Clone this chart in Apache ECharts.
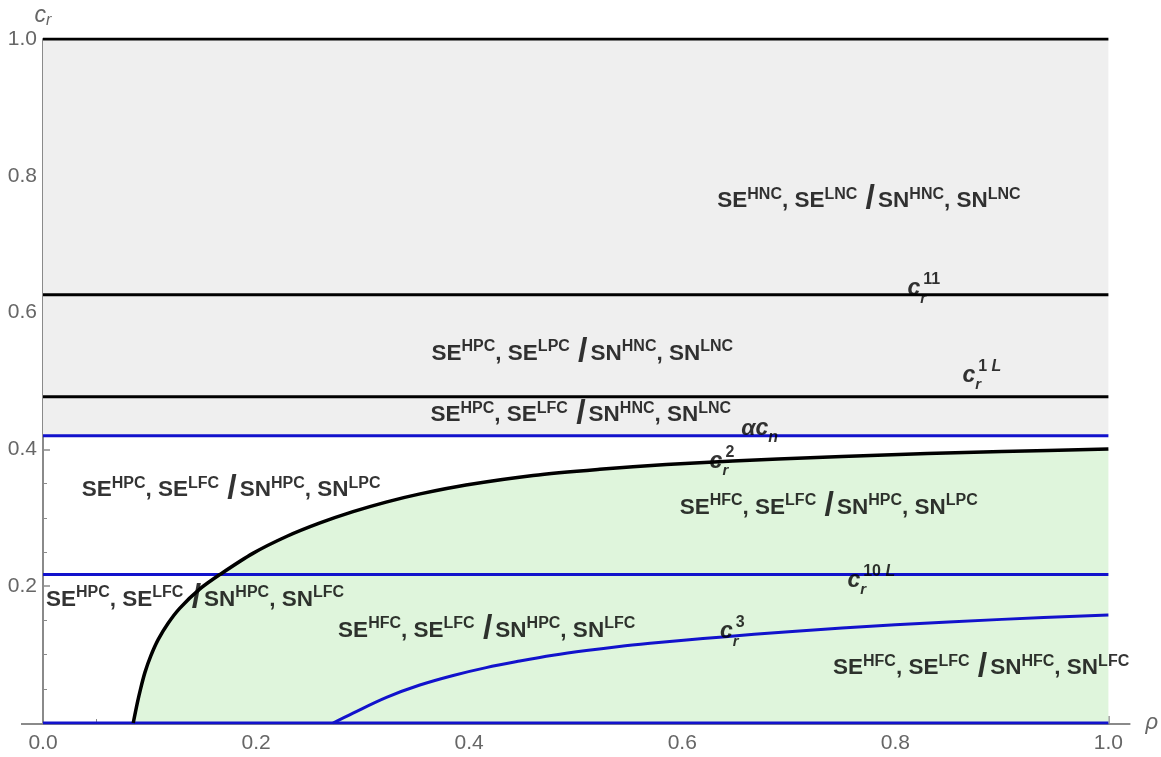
<!DOCTYPE html>
<html>
<head>
<meta charset="utf-8">
<script src="https://cdn.jsdelivr.net/npm/echarts@6.0.0/dist/echarts.min.js"></script>
<style>
  html, body { margin: 0; padding: 0; background: #ffffff; }
  #chart { width: 1161px; height: 757px; }
</style>
</head>
<body>
<div id="chart"></div>
<script>
// Boundary curve c_r^2(ρ)
const cr2Rho = [0.0847, 0.0885, 0.0916, 0.0957, 0.101, 0.1082, 0.1176, 0.1285, 0.1473, 0.166,
                0.197, 0.229, 0.26, 0.291, 0.322, 0.354, 0.397, 0.46, 0.5225, 0.585, 0.6475,
                0.69, 0.75, 0.83, 0.9, 1.0];
const cr2Val = [0, 0.029, 0.050, 0.074, 0.0975, 0.1222, 0.1462, 0.168, 0.196, 0.217,
                0.248, 0.273, 0.2925, 0.309, 0.323, 0.335, 0.348, 0.362, 0.371, 0.378, 0.383,
                0.386, 0.3895, 0.394, 0.397, 0.4005];

// Boundary curve c_r^3(ρ)
const cr3Rho = [0.2723, 0.291, 0.3224, 0.3537, 0.385, 0.416, 0.4475, 0.4787, 0.51, 0.541,
                0.5725, 0.604, 0.635, 0.7, 0.8, 0.9, 1.0];
const cr3Val = [0, 0.0145, 0.0375, 0.0555, 0.0695, 0.081, 0.0905, 0.099, 0.106, 0.112,
                0.117, 0.1215, 0.1255, 0.1335, 0.1435, 0.1515, 0.158];

// Constant thresholds
const levelTop = 1.0;
const levelCr11 = 0.626;
const levelCr1L = 0.477;
const levelAlphaCn = 0.42;
const levelCr10L = 0.217;
const levelZero = 0;

// Axis tick labels
const xTickLabels = ['0.0', '0.2', '0.4', '0.6', '0.8', '1.0'];
const yTickLabels = ['', '0.2', '0.4', '0.6', '0.8', '1.0'];

// Equilibrium regions: superscripts of SE^a, SE^b / SN^c, SN^d
const regionSups = [
  ['HNC', 'LNC', 'HNC', 'LNC'],
  ['HPC', 'LPC', 'HNC', 'LNC'],
  ['HPC', 'LFC', 'HNC', 'LNC'],
  ['HPC', 'LFC', 'HPC', 'LPC'],
  ['HFC', 'LFC', 'HPC', 'LPC'],
  ['HPC', 'LFC', 'HPC', 'LFC'],
  ['HFC', 'LFC', 'HPC', 'LFC'],
  ['HFC', 'LFC', 'HFC', 'LFC']
];
// where each region's text starts (ρ, c_r)
const regionRho = [0.6329, 0.3647, 0.3637, 0.0363, 0.5976, 0.0028, 0.277, 0.7415];
const regionCr  = [0.763, 0.540, 0.450, 0.3404, 0.3144, 0.1797, 0.1347, 0.080];

// Curve names
const curveNames = [
  '{c|c}{sb|r}{sp|11}',
  '{c|c}{sb|r}{sp|1}{spi| L}',
  '{c|αc}{sbn|n}',
  '{c|c}{sb|r}{sp|2}',
  '{c|c}{sb|r}{sp|10}{spi| L}',
  '{c|c}{sb|r}{sp|3}'
];
const curveNameRho = [0.8114, 0.863, 0.6554, 0.6257, 0.755, 0.6354];
const curveNameCr  = [0.6345, 0.508, 0.430, 0.3825, 0.2085, 0.133];

const FONT = '"Liberation Sans", Arial, Helvetica, sans-serif';
const BLACK = '#000000';
const BLUE = '#1212cc';
const AXIS = '#8a8a8a';
const TICKTXT = '#666666';

const pairs = (xs, ys) => xs.map((x, i) => [x, ys[i]]);
const hline = v => [[0, v], [1, v]];

function regionText(s) {
  return '{m|SE}{s|' + s[0] + '}{m|, SE}{s|' + s[1] + '}{m| }{sl|/}{m|SN}{s|' + s[2] +
         '}{m|, SN}{s|' + s[3] + '}';
}

const chart = echarts.init(document.getElementById('chart'), null, { renderer: 'canvas' });

const lineSeries = (name, data, color, width) => ({
  name, type: 'line', data, showSymbol: false, symbol: 'none', silent: true, z: 3,
  lineStyle: { color, width }, animation: false
});

const option = {
  animation: false,
  backgroundColor: '#ffffff',
  grid: { left: 43, right: 52, top: 39, bottom: 34, containLabel: false },
  xAxis: {
    type: 'value', min: 0, max: 1, interval: 0.2,
    name: 'ρ', nameLocation: 'end', nameGap: 37,
    nameTextStyle: { color: TICKTXT, fontSize: 22, fontStyle: 'italic', fontFamily: FONT, padding: [16, 0, 0, 0] },
    axisLine: { show: false },
    axisTick: { show: true, inside: true, length: 7, lineStyle: { color: AXIS, width: 1.5 } },
    minorTick: { show: true, splitNumber: 4, length: 4, lineStyle: { color: AXIS, width: 1 } },
    splitLine: { show: false },
    axisLabel: {
      color: TICKTXT, fontSize: 21, fontFamily: FONT, margin: 10,
      formatter: v => xTickLabels[Math.round(v / 0.2)]
    }
  },
  yAxis: {
    type: 'value', min: 0, max: 1, interval: 0.2,
    name: '{c|c}{r|r}', nameLocation: 'end', nameGap: 10,
    nameTextStyle: {
      rich: {
        c: { color: TICKTXT, fontSize: 23, fontStyle: 'italic', fontFamily: FONT, lineHeight: 26, verticalAlign: 'middle' },
        r: { color: TICKTXT, fontSize: 16, fontStyle: 'italic', fontFamily: FONT, lineHeight: 16, verticalAlign: 'bottom' }
      }
    },
    axisLine: { show: true, lineStyle: { color: AXIS, width: 2 } },
    axisTick: { show: true, inside: true, length: 7, lineStyle: { color: AXIS, width: 1.5 } },
    minorTick: { show: true, splitNumber: 4, length: 4, lineStyle: { color: AXIS, width: 1 } },
    splitLine: { show: false },
    axisLabel: {
      color: TICKTXT, fontSize: 21, fontFamily: FONT, margin: 6,
      formatter: v => yTickLabels[Math.round(v / 0.2)]
    }
  },
  series: [
    // grey band above αc_n
    {
      name: 'band', type: 'line', data: hline(levelAlphaCn), symbol: 'none', silent: true, z: 1,
      lineStyle: { width: 0, opacity: 0 },
      markArea: {
        silent: true,
        itemStyle: { color: '#efefef' },
        data: [[{ coord: [0, levelAlphaCn] }, { coord: [1, levelTop] }]]
      }
    },
    // green region under c_r^2
    {
      name: 'area', type: 'line', data: pairs(cr2Rho, cr2Val), symbol: 'none', silent: true, z: 1,
      smooth: 0.3,
      lineStyle: { width: 0, opacity: 0 },
      areaStyle: { color: '#dff5dc', opacity: 1, origin: 'start' }
    },
    lineSeries('top', hline(levelTop), BLACK, 3),
    lineSeries('cr11', hline(levelCr11), BLACK, 3),
    lineSeries('cr1L', hline(levelCr1L), BLACK, 3),
    lineSeries('alphaCn', hline(levelAlphaCn), BLUE, 3),
    lineSeries('cr10L', hline(levelCr10L), BLUE, 3),
    lineSeries('zero', hline(levelZero), BLUE, 3),
    Object.assign(lineSeries('cr2', pairs(cr2Rho, cr2Val), BLACK, 3.5), { smooth: 0.3 }),
    Object.assign(lineSeries('cr3', pairs(cr3Rho, cr3Val), BLUE, 3), { smooth: 0.35 }),
    // region labels
    {
      name: 'regions', type: 'scatter', symbolSize: 0, silent: true, z: 6,
      data: pairs(regionRho, regionCr),
      label: {
        show: true, position: 'right', distance: 0,
        formatter: p => regionText(regionSups[p.dataIndex]),
        rich: {
          m: { color: BLACK, fontSize: 22.5, fontWeight: 'bold', fontFamily: FONT, lineHeight: 30, verticalAlign: 'middle' },
          s: { color: BLACK, fontSize: 16, fontWeight: 'bold', fontFamily: FONT, lineHeight: 17, verticalAlign: 'top' },
          sl: { color: BLACK, fontSize: 34, fontWeight: 'bold', fontFamily: FONT, lineHeight: 20, verticalAlign: 'bottom', padding: [0, 3, 0, 2] }
        }
      }
    },
    // curve names
    {
      name: 'curveNames', type: 'scatter', symbolSize: 0, silent: true, z: 6,
      data: pairs(curveNameRho, curveNameCr),
      label: {
        show: true, position: 'right', distance: 0,
        formatter: p => curveNames[p.dataIndex],
        rich: {
          c: { color: BLACK, fontSize: 23, fontWeight: 'bold', fontStyle: 'italic', fontFamily: FONT, lineHeight: 34, verticalAlign: 'middle' },
          sb: { color: BLACK, fontSize: 15, fontWeight: 'bold', fontStyle: 'italic', fontFamily: FONT, lineHeight: 16, verticalAlign: 'bottom', width: 3, align: 'left' },
          sbn: { color: BLACK, fontSize: 16, fontWeight: 'bold', fontStyle: 'italic', fontFamily: FONT, lineHeight: 16, verticalAlign: 'bottom' },
          sp: { color: BLACK, fontSize: 16, fontWeight: 'bold', fontFamily: FONT, lineHeight: 16, verticalAlign: 'top' },
          spi: { color: BLACK, fontSize: 16, fontWeight: 'bold', fontStyle: 'italic', fontFamily: FONT, lineHeight: 16, verticalAlign: 'top' }
        }
      }
    }
  ]
};

chart.setOption(option);

// Horizontal axis line, drawn a little past both ends of the plot
const p0 = chart.convertToPixel({ xAxisIndex: 0, yAxisIndex: 0 }, [0, 0]);
const p1 = chart.convertToPixel({ xAxisIndex: 0, yAxisIndex: 0 }, [1, 0]);
chart.setOption({
  graphic: [{
    type: 'line', silent: true, z: 0,
    shape: { x1: p0[0] - 22, y1: p0[1] + 1, x2: p1[0] + 22, y2: p1[1] + 1 },
    style: { stroke: AXIS, lineWidth: 2 }
  }]
});
</script>
</body>
</html>
